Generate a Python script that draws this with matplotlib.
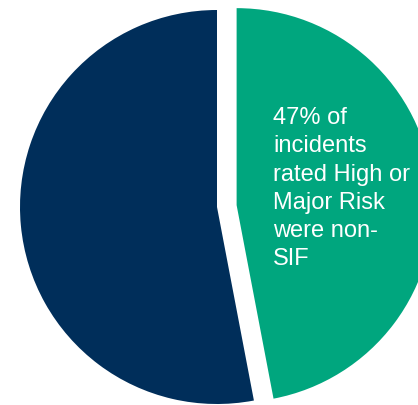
import matplotlib
matplotlib.use("Agg")
import matplotlib.pyplot as plt

# share of incidents rated High or Major Risk
labels = ['non-SIF', 'SIF']
shares = [47, 53]
colors = ['#00A67E', '#002E5A']
explode = [0.10, 0.0]
note = '47% of\nincidents\nrated High or\nMajor Risk\nwere non-\nSIF'

plt.rcParams['font.family'] = ['Liberation Sans', 'DejaVu Sans']

fig = plt.figure(figsize=(4.18, 4.05), dpi=100)
ax = fig.add_axes([0, 0, 1, 1])

r = 197.0  # pie radius in pixels
ax.pie(shares, colors=colors, explode=explode, startangle=90,
       counterclock=False, radius=1.0,
       wedgeprops=dict(linewidth=0, antialiased=True))

# place the centre at pixel (217, 207) from top-left
ax.set_aspect('auto')
ax.set_xlim(-217 / r, (418 - 217) / r)
ax.set_ylim(-(405 - 207) / r, 207 / r)
ax.axis('off')

fig.text(273 / 418, 1 - 107 / 405, note, color='white', fontsize=17,
         ha='left', va='top', linespacing=1.37)

fig.savefig('out.png', dpi=100)
